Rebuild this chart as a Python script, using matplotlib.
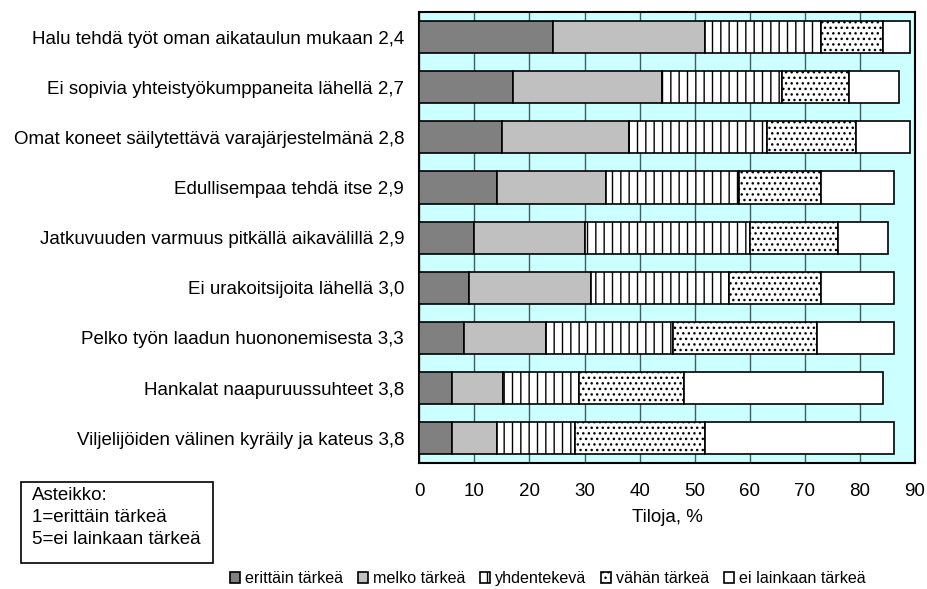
import matplotlib.pyplot as plt
from matplotlib.patches import Rectangle

plt.rcParams['font.family'] = ['Liberation Sans', 'DejaVu Sans']
plt.rcParams['hatch.linewidth'] = 1.0

labels = [
    'Halu tehdä työt oman aikataulun mukaan 2,4',
    'Ei sopivia yhteistyökumppaneita lähellä 2,7',
    'Omat koneet säilytettävä varajärjestelmänä 2,8',
    'Edullisempaa tehdä itse 2,9',
    'Jatkuvuuden varmuus pitkällä aikavälillä 2,9',
    'Ei urakoitsijoita lähellä 3,0',
    'Pelko työn laadun huononemisesta 3,3',
    'Hankalat naapuruussuhteet 3,8',
    'Viljelijöiden välinen kyräily ja kateus 3,8',
]
series_names = ['erittäin tärkeä', 'melko tärkeä', 'yhdentekevä', 'vähän tärkeä', 'ei lainkaan tärkeä']

erittain = [24.2, 17.1, 15.1, 14.1, 10.0, 9.0, 8.1, 5.9, 5.9]
melko = [27.7, 27.0, 23.0, 19.8, 20.0, 22.1, 14.9, 9.3, 8.2]
yhdentekeva = [21.0, 21.8, 25.1, 24.2, 30.1, 25.1, 23.1, 13.8, 14.1]
vahan = [11.3, 12.2, 16.0, 14.8, 16.0, 16.8, 26.1, 19.0, 23.7]
ei_lainkaan = [4.8, 9.0, 9.8, 13.3, 9.0, 13.2, 14.0, 36.2, 34.3]

series = [erittain, melko, yhdentekeva, vahan, ei_lainkaan]
colors = ['#808080', '#c0c0c0', 'white', 'white', 'white']
hatches = [None, None, '||', '...', None]

fig = plt.figure(figsize=(9.27, 5.89), dpi=100)
ax = fig.add_axes([0.4523, 0.2134, 0.5348, 0.7662])
ax.set_facecolor('#ccffff')

ypos = list(range(len(labels)))[::-1]
left = [0.0] * len(labels)
for vals, name, col, h in zip(series, series_names, colors, hatches):
    ax.barh(ypos, vals, left=left, height=0.64, color=col, edgecolor='black',
            linewidth=1.2, hatch=h, label=name, zorder=3)
    left = [a + b for a, b in zip(left, vals)]

ax.set_xlim(0, 90)
ax.set_ylim(-0.5, len(labels) - 0.5)
ax.set_xticks(range(0, 91, 10))
ax.set_yticks(ypos)
ax.set_yticklabels(labels)
ax.tick_params(axis='y', length=0, pad=11, labelsize=13.5)
ax.tick_params(axis='x', length=0, pad=14, labelsize=13.5)
ax.xaxis.grid(True, color='#406060', linewidth=1.0, zorder=0)
ax.set_axisbelow(True)
for s in ax.spines.values():
    s.set_linewidth(1.5)
ax.set_xlabel('Tiloja, %', fontsize=13.5, labelpad=7)

fig.legend(loc='center', bbox_to_anchor=(0.591, 0.018), ncol=5, frameon=False,
           fontsize=11.6, handlelength=0.65, handleheight=0.65, handletextpad=0.3,
           columnspacing=0.9)

# asteikko box
fig.patches.append(Rectangle((21 / 927, 1 - 563 / 589), 192 / 927, 81 / 589,
                             transform=fig.transFigure, facecolor='white',
                             edgecolor='black', linewidth=1.2))
for i, t in enumerate(['Asteikko:', '1=erittäin tärkeä', '5=ei lainkaan tärkeä']):
    fig.text(32 / 927, 1 - (495 + 22 * i) / 589, t, fontsize=13.5, va='center', ha='left')

fig.savefig('out.png', dpi=100)
